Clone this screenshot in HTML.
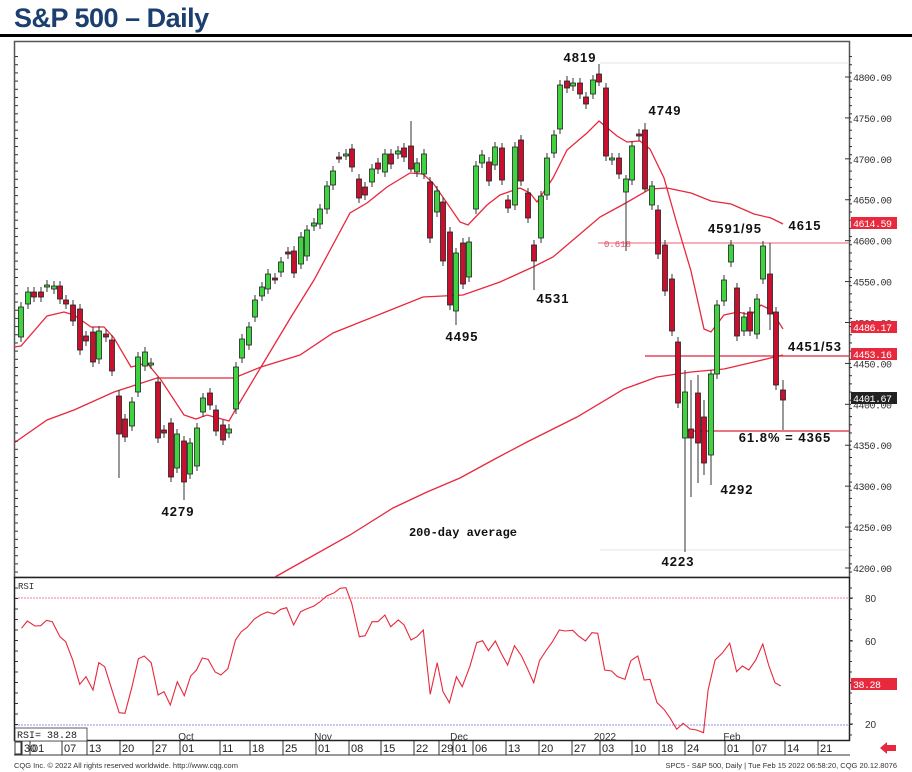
<!DOCTYPE html>
<html><head><meta charset="utf-8"><style>
body{margin:0;background:#fff;width:912px;height:772px;overflow:hidden;font-family:"Liberation Sans",sans-serif}
svg{position:absolute;left:0;top:0}
</style></head><body>
<svg id="s" width="912" height="772" xmlns="http://www.w3.org/2000/svg">
<text x="14" y="27" font-family="Liberation Sans,sans-serif" font-weight="bold" font-size="27" fill="#1b3f6e" letter-spacing="-0.5">S&amp;P 500 – Daily</text>
<rect x="0" y="34" width="912" height="3" fill="#000"/>
<rect x="14.5" y="41.5" width="835" height="536" fill="#fff" stroke="#555" stroke-width="1.5"/>
<rect x="14.5" y="577.5" width="835" height="163" fill="#fff" stroke="#222" stroke-width="1.5"/>
<g id="g"></g>
</svg>
<script>
const g=document.getElementById('g');const NS='http://www.w3.org/2000/svg';
function el(t,a,txt){const e=document.createElementNS(NS,t);for(const k in a)e.setAttribute(k,a[k]);if(txt!=null)e.textContent=txt;g.appendChild(e);return e;}
// candles: x, top, bottom, color(g/r)
const C=[[21,307,337,'g'],[28,292,304,'g'],[34,292,297,'r'],[41,292,297,'r'],[47,285,287,'g'],[54,286,289,'g'],[60,286,299,'r'],[66,300,304,'r'],[73,305,321,'r'],[80,309,350,'r'],[86,336,341,'r'],[93,332,362,'r'],[99,331,359,'g'],[106,334,337,'r'],[112,340,371,'r'],[119,396,434,'r'],[125,419,437,'r'],[132,402,426,'g'],[138,357,392,'g'],[145,352,366,'g'],[151,363,364,'g'],[158,382,438,'r'],[164,430,433,'r'],[171,423,477,'r'],[177,434,468,'g'],[184,441,482,'r'],[190,443,474,'g'],[197,428,466,'g'],[203,398,412,'g'],[210,393,405,'r'],[216,410,431,'r'],[223,425,440,'r'],[229,429,433,'g'],[236,367,409,'g'],[242,339,358,'g'],[249,327,345,'g'],[255,300,317,'g'],[262,287,296,'g'],[268,274,289,'g'],[275,278,279,'r'],[281,262,272,'g'],[288,252,254,'r'],[294,251,273,'r'],[301,237,264,'g'],[307,230,256,'g'],[314,223,226,'g'],[320,209,224,'g'],[327,186,209,'g'],[333,171,185,'g'],[339,157,158,'r'],[346,154,155,'g'],[352,149,167,'r'],[359,179,198,'r'],[365,187,195,'r'],[372,169,182,'g'],[378,163,169,'r'],[385,154,172,'g'],[391,154,164,'r'],[398,151,154,'g'],[404,148,157,'r'],[411,146,169,'r'],[417,163,172,'g'],[424,154,174,'g'],[430,182,238,'r'],[437,191,212,'g'],[443,202,261,'r'],[450,232,305,'r'],[456,253,311,'g'],[463,243,284,'r'],[469,242,277,'g'],[476,166,209,'g'],[482,155,163,'g'],[489,162,181,'r'],[495,147,165,'g'],[502,148,180,'r'],[508,200,208,'r'],[515,147,205,'g'],[521,140,181,'r'],[528,193,218,'r'],[534,245,261,'r'],[541,196,238,'g'],[547,158,195,'g'],[554,135,153,'g'],[560,85,129,'g'],[567,81,88,'r'],[573,83,86,'g'],[580,83,94,'r'],[586,97,104,'r'],[593,80,94,'g'],[599,74,82,'r'],[606,88,156,'r'],[612,158,160,'g'],[619,158,174,'r'],[626,179,192,'g'],[632,146,180,'g'],[639,134,136,'r'],[645,130,189,'r'],[652,186,205,'g'],[658,210,254,'r'],[665,245,291,'r'],[672,279,331,'r'],[678,342,403,'r'],[685,392,438,'g'],[691,429,438,'r'],[698,393,443,'r'],[704,417,463,'r'],[711,374,455,'g'],[717,305,374,'g'],[724,280,301,'g'],[731,245,262,'g'],[737,288,336,'r'],[744,317,331,'g'],[750,312,331,'r'],[757,299,334,'g'],[763,246,279,'g'],[770,274,314,'r'],[776,312,385,'r'],[783,390,400,'r']];
const W={119:[390,478],184:[436,500],456:[248,325],534:[240,290],599:[64,86],626:[175,251],685:[370,552],691:[380,497],698:[375,483],704:[400,475],711:[370,485],411:[121,172],770:[243,330],783:[380,430],131:[335,430],645:[123,192]};
// lines first
function pl(pts,attrs){el('polyline',Object.assign({points:pts.map(p=>p.join(',')).join(' '),fill:'none'},attrs));}
el('line',{x1:600,y1:63,x2:849,y2:63,stroke:'#e6e6e6'});
el('line',{x1:600,y1:550,x2:849,y2:550,stroke:'#e6e6e6'});
el('line',{x1:598,y1:243,x2:849,y2:243,stroke:'#f08090','stroke-width':1.3});
el('line',{x1:645,y1:356,x2:849,y2:356,stroke:'#e0203a','stroke-width':1.2});
el('line',{x1:686,y1:431,x2:849,y2:431,stroke:'#e0203a','stroke-width':1.2});
el('text',{x:604,y:247,'font-size':9,fill:'#e05060','font-family':'Liberation Mono,monospace'},'0.618');
const R={stroke:'#e8283c','stroke-width':1.3};
pl([[14,347],[21,346],[47,316],[64,312],[74,315],[91,327],[104,327],[114,338],[131,367],[147,363],[161,380],[184,415],[196,419],[207,415],[229,421],[237,407],[261,367],[291,317],[314,280],[350,213],[367,203],[387,187],[410,173],[423,174],[433,183],[447,203],[460,222],[468,225],[487,205],[500,195],[520,188],[530,193],[537,202],[553,178],[567,150],[587,133],[599,121],[617,136],[627,142],[640,141],[650,149],[664,178],[677,224],[691,271],[704,329],[711,332],[724,315],[738,312],[751,315],[761,305],[771,310],[783,329]],R);
pl([[14,443],[47,420],[74,410],[114,392],[157,378],[181,378],[234,378],[261,367],[300,355],[333,333],[383,313],[423,297],[463,295],[500,282],[533,267],[553,257],[573,240],[600,217],[624,204],[650,189],[667,188],[691,193],[711,201],[731,204],[754,214],[771,218],[783,224]],R);
pl([[275,577],[350,535],[393,508],[427,492],[460,478],[493,460],[527,442],[577,417],[624,389],[657,377],[691,372],[724,369],[754,362],[783,355]],R);
for(const [x,t,b,c] of C){const w=W[x]||[t-5,b+5];el('line',{x1:x,y1:w[0],x2:x,y2:w[1],stroke:'#333','stroke-width':1});
el('rect',{x:x-2.5,y:t,width:5,height:Math.max(b-t,2),fill:c=='g'?'#3fd33f':'#c8102e',stroke:'#222','stroke-width':0.8});}
// labels
const L=[[580,62,'4819'],[665,115,'4749'],[735,233,'4591/95'],[805,230,'4615'],[462,341,'4495'],[553,303,'4531'],[815,351,'4451/53'],[785,442,'61.8% =  4365'],[737,494,'4292'],[678,566,'4223'],[178,516,'4279']];
for(const [x,y,t] of L)el('text',{x,y,'font-size':13,'font-weight':'bold','text-anchor':'middle',fill:'#111','letter-spacing':'1',
 'font-family':'Liberation Sans,sans-serif'},t);
el('text',{x:463,y:536,'font-size':12,'font-weight':'bold','text-anchor':'middle',fill:'#111','font-family':'Liberation Mono,monospace'},'200-day average');
// right axis
for(let p=4800;p>=4200;p-=50){const y=77+(4800-p)*0.8183;el('text',{x:853,y:y+4,'font-size':10,fill:'#333','font-family':'Liberation Mono,monospace','letter-spacing':'-0.5'},p+'.00');el('line',{x1:845,y1:y,x2:851,y2:y,stroke:'#333'});}
for(let p=4825;p>=4175;p-=10){const y=77+(4800-p)*0.8183;if(y>42&&y<577){el('line',{x1:849,y1:y,x2:852,y2:y,stroke:'#333'});el('line',{x1:15,y1:y,x2:18,y2:y,stroke:'#333'});}}
function box(y,t,bg){el('rect',{x:851,y:y-6,width:46,height:12,fill:bg});el('text',{x:853,y:y+4,'font-size':10,fill:'#fff','font-family':'Liberation Mono,monospace','letter-spacing':'-0.5'},t);}
box(223,'4614.59','#e8283c');box(327,'4486.17','#e8283c');box(354,'4453.16','#e8283c');box(398,'4401.67','#222');
// RSI
el('line',{x1:15,y1:598,x2:849,y2:598,stroke:'#f08090','stroke-dasharray':'2,1'});
el('line',{x1:15,y1:725,x2:849,y2:725,stroke:'#9090e0','stroke-dasharray':'2,1'});
el('text',{x:18,y:589,'font-size':9,fill:'#333','font-family':'Liberation Mono,monospace'},'RSI');
const RS=[[37,175],[47,153],[60,168],[70,167],[80,151],[90,155],[103,200],[113,215],[125,270],[137,343],[148,320],[160,360],[170,278],[180,290],[193,362],[205,428],[215,430],[227,350],[238,266],[248,258],[260,278],[272,375],[282,365],[293,405],[305,335],[317,377],[328,318],[338,300],[348,264],[358,268],[370,306],[380,315],[392,296],[405,210],[415,185],[425,172],[437,148],[448,135],[460,126],[472,132],[483,118],[493,113],[505,165],[517,125],[527,117],[540,108],[550,96],[562,78],[575,68],[585,55],[595,53],[605,100],[618,200],[628,197],[640,155],[650,155],[662,135],[672,170],[685,150],[695,165],[707,210],[717,200],[728,180],[740,373],[752,278],[762,365],[773,398],[785,320],[795,350],[808,290],[820,218],[830,212],[840,242],[852,213],[862,250],[873,285],[885,227],[897,258],[907,295],[918,338],[928,272],[940,240],[950,216],[962,180],[972,183],[985,181],[995,198],[1007,213],[1018,188],[1028,190],[1040,300],[1052,303],[1062,320],[1075,328],[1085,272],[1097,258],[1108,330],[1118,328],[1130,398],[1142,418],[1153,445],[1164,478],[1175,460],[1187,477],[1198,480],[1210,488],[1218,360],[1230,270],[1242,250],[1255,220],[1267,305],[1277,288],[1288,300],[1300,270],[1312,222],[1322,285],[1333,338],[1343,348]];
pl(RS.map(([x,y])=>[(x/1.72).toFixed(1),(570+y/3).toFixed(1)]),{stroke:'#e8283c','stroke-width':1.1});
for(const [v,y] of [[80,598],[60,641],[40,683],[20,724]]){el('text',{x:865,y:y+4,'font-size':10,fill:'#333','font-family':'Liberation Sans,sans-serif'},v);el('line',{x1:849,y1:y,x2:853,y2:y,stroke:'#333'});}
for(let y=588;y<740;y+=10.5){el('line',{x1:15,y1:y,x2:18,y2:y,stroke:'#333'});el('line',{x1:849,y1:y,x2:852,y2:y,stroke:'#333'});}
box(684,'38.28','#e8283c');el('text',{x:853,y:688,'font-size':10,fill:'#fff','font-family':'Liberation Mono,monospace'},'');
el('rect',{x:15,y:728,width:72,height:13,fill:'#fff',stroke:'#333','stroke-width':0.8});
el('text',{x:17,y:738,'font-size':10,fill:'#222','font-family':'Liberation Mono,monospace'},'RSI=  38.28');
// months
for(const [x,t] of [[186,'Oct'],[323,'Nov'],[459,'Dec'],[605,'2022'],[732,'Feb']]){el('text',{x,y:740,'font-size':10,fill:'#333','font-family':'Liberation Sans,sans-serif','text-anchor':'middle'},t);}
// date axis
el('line',{x1:14,y1:755,x2:850,y2:755,stroke:'#333'});
const D=[[22,'30'],[30,'01'],[62,'07'],[87,'13'],[120,'20'],[153,'27'],[180,'01'],[220,'11'],[250,'18'],[283,'25'],[316,'01'],[349,'08'],[381,'15'],[414,'22'],[439,'29'],[453,'01'],[473,'06'],[506,'13'],[539,'20'],[572,'27'],[600,'03'],[632,'10'],[659,'18'],[685,'24'],[725,'01'],[753,'07'],[785,'14'],[818,'21']];
for(const [x,t] of D){el('line',{x1:x,y1:741,x2:x,y2:755,stroke:'#333'});el('text',{x:x+2,y:752,'font-size':11,fill:'#222','font-family':'Liberation Sans,sans-serif'},t);}
el('rect',{x:15,y:742,width:6,height:12,fill:'#fff',stroke:'#333'});
el('polygon',{points:'880,748 887,742 887,745 896,745 896,751 887,751 887,754',fill:'#e8283c'});
el('text',{x:14,y:768,'font-size':7.5,fill:'#333','font-family':'Liberation Sans,sans-serif'},'CQG Inc. © 2022 All rights reserved worldwide. http://www.cqg.com');
el('text',{x:897,y:768,'font-size':7.5,fill:'#333','text-anchor':'end','font-family':'Liberation Sans,sans-serif'},'SPC5 - S&P 500, Daily | Tue Feb 15 2022 06:58:20, CQG 20.12.8076');
</script>
</body></html>
